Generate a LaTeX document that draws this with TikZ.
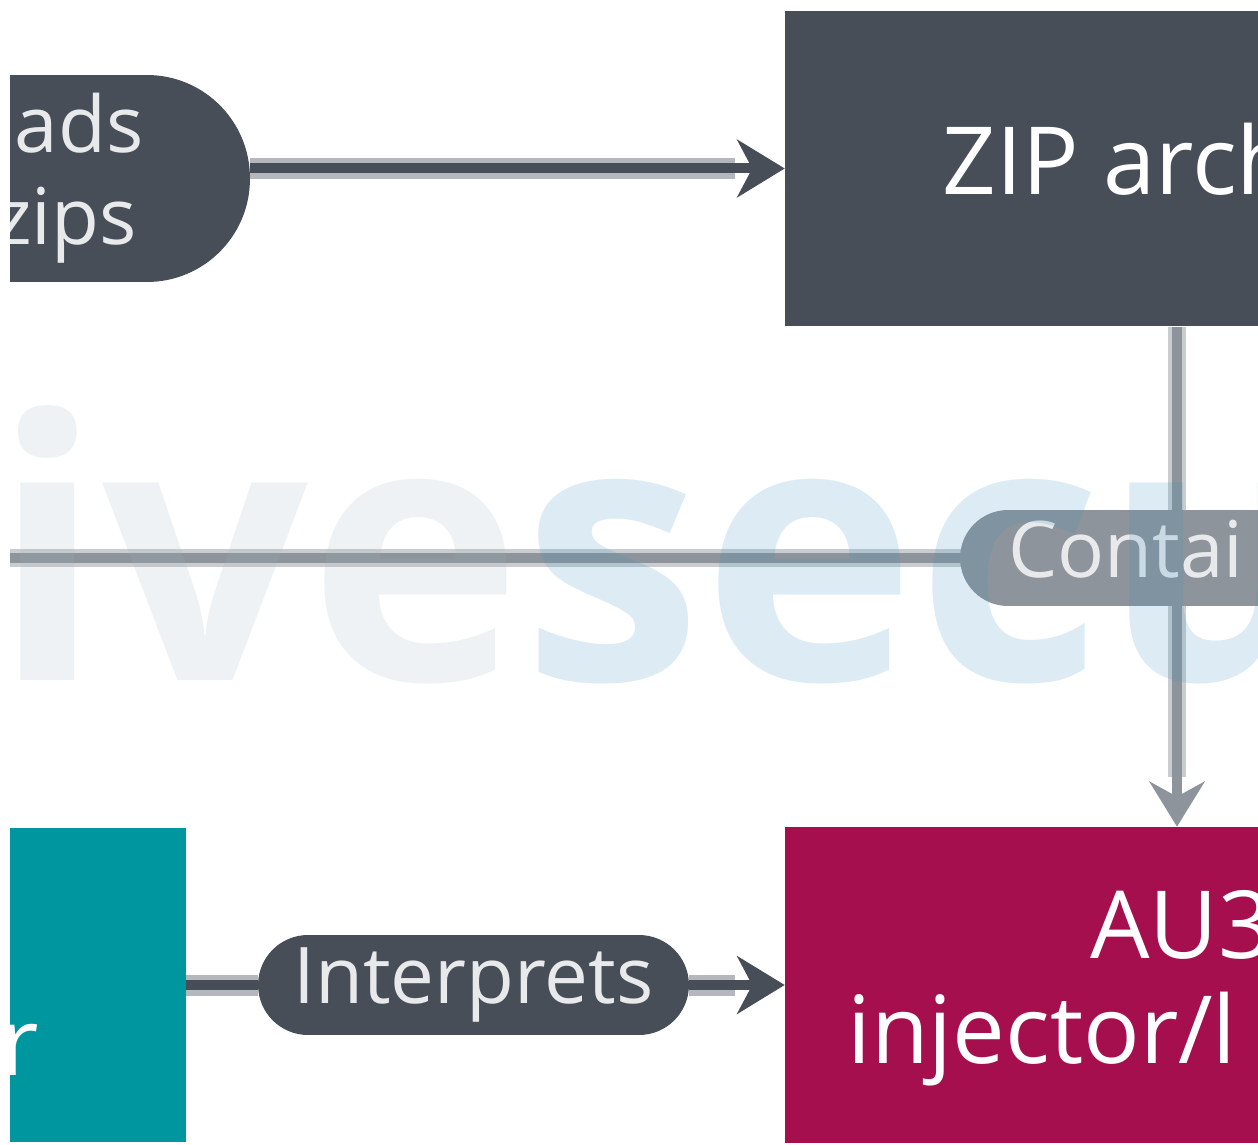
\documentclass[tikz,border=0pt]{standalone}
\usepackage{fontspec}
\setmainfont{Open Sans}
\usetikzlibrary{arrows.meta}

\definecolor{slate}{HTML}{474E57}
\definecolor{tealbox}{HTML}{0096A0}
\definecolor{berry}{HTML}{A60F4E}
\definecolor{mutedgray}{HTML}{8E949B}
\definecolor{casinggray}{HTML}{B4B7BB}
\definecolor{mutedcasing}{HTML}{CACDD0}
\definecolor{labeltext}{HTML}{E8E9EB}
\definecolor{wmgray}{HTML}{A1B4C0}
\definecolor{wmblue}{HTML}{318FC0}

\begin{document}
\begin{tikzpicture}[x=0.02cm, y=-0.02cm,
  bigbox/.style={rectangle, draw=none, inner sep=0, minimum width=15.68cm, minimum height=6.32cm},
  boxtext/.style={text=white, inner sep=0, font=\fontsize{53.5}{60}\selectfont},
  pilltext/.style={text=labeltext, inner sep=0, font=\fontsize{44.5}{52}\selectfont},
  casing/.style={draw=casinggray, line width=0.42cm},
  mutedcase/.style={draw=mutedcasing, line width=0.36cm},
  flowline/.style={draw=slate, line width=0.2cm},
  flow/.style={flowline, -{Stealth[length=0.95cm, width=1.15cm, inset=0.3cm]}},
  mutedline/.style={draw=mutedgray, line width=0.2cm},
  mutedflow/.style={mutedline, -{Stealth[length=0.9cm, width=1.1cm, inset=0.3cm]}}
]
% canvas
\fill[white] (0,0) rectangle (1258,1145);
\useasboundingbox (0,0) rectangle (1258,1145);

\begin{scope}
\clip (10,0) rectangle (1258,1145);

% download step
\node[rectangle, fill=slate, inner sep=0, minimum width=12cm, minimum height=4.14cm,
      rounded corners=2.06cm] (dl) at (-50,178.5) {};
\node[pilltext, anchor=base east] (dl1) at (144,153) {oads};
\node[pilltext, anchor=base east] (dl2) at (137,245) {zips};

% archive
\node[bigbox, fill=slate] (zip) at (1177,168.5) {};
\node[boxtext, anchor=base west] (ziptext) at (942,195) {ZIP arch};

% interpreter
\node[rectangle, fill=tealbox, inner sep=0, minimum width=11.72cm, minimum height=6.28cm] (engine) at (-107,985) {};
\node[boxtext, anchor=base west] (enginetext) at (0,1075) {r};

% injector / loader
\node[bigbox, fill=berry] (au3) at (1177,985) {};
\node[boxtext, anchor=base west] (au3a) at (1090,958) {AU3};
\node[boxtext, anchor=base west] (au3b) at (847,1063) {injector/l};

% download -> archive
\draw[casing] (dl.east |- zip.west) -- ([xshift=-1cm]zip.west);
\draw[flow] (dl.east |- zip.west) -- (zip.west);

% "Interprets" edge
\node[rectangle, fill=slate, rounded corners=1cm, inner sep=0, minimum width=8.62cm,
      minimum height=2cm, pilltext] (interprets) at (473.5,985) {Interprets};
\draw[casing] (engine.east) -- (interprets.west);
\draw[flowline] (engine.east) -- (interprets.west);
\draw[casing] (interprets.east) -- ([xshift=-1cm]au3.west);
\draw[flow] (interprets.east) -- (au3.west);

% "Contains" edge
\coordinate (offleft) at (-50,558);
\draw[mutedcase] (offleft) -- (1000,558);
\draw[mutedline] (offleft) -- (1000,558);
\node[rectangle, fill=mutedgray, rounded corners=0.96cm, inner sep=0, minimum width=10.8cm,
      minimum height=1.92cm] (contains) at (1230,558) {};

% archive -> injector
\draw[mutedcase] (zip.south) -- (1177,510);
\draw[mutedcase] (1177,606) -- ([yshift=1cm]au3.north);
\draw[mutedflow] (zip.south) -- (au3.north);
\node[pilltext, anchor=base west] (containstext) at (1008,577) {Contai};

% watermark
\node[anchor=base west, inner sep=0, text opacity=0.16,
      font=\fontsize{206}{206}\selectfont\bfseries] (wm) at (-8,680)
      {\textcolor{wmgray}{ive}\textcolor{wmblue}{secu}};
\end{scope}
\end{tikzpicture}
\end{document}
